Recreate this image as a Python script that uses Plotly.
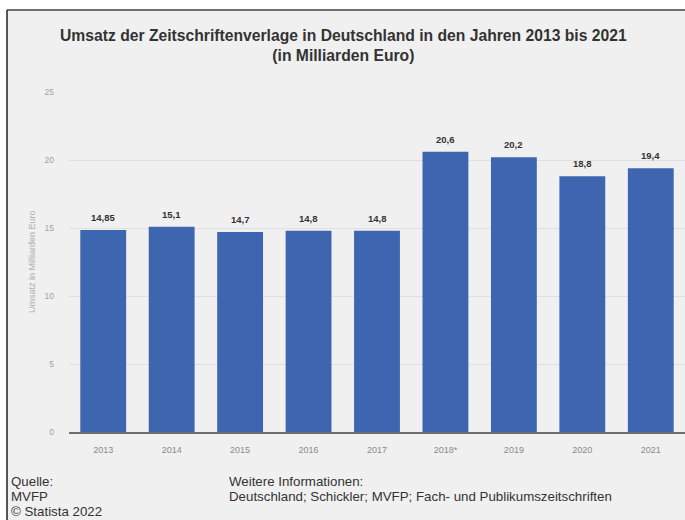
import plotly.graph_objects as go

categories = ["2013", "2014", "2015", "2016", "2017", "2018*", "2019", "2020", "2021"]
values = [14.85, 15.1, 14.7, 14.8, 14.8, 20.6, 20.2, 18.8, 19.4]
value_labels = ["14,85", "15,1", "14,7", "14,8", "14,8", "20,6", "20,2", "18,8", "19,4"]
y_ticks = [0, 5, 10, 15, 20, 25]

W, H = 685, 520
L, R, T, B = 69, 0, 92, 88
PW, PH = W - L - R, H - T - B
BG = "#f1f0f0"
FONT = "Liberation Sans, Arial, sans-serif"


def px(X):
    return (X - L) / PW


def py(Y):
    return (H - B - Y) / PH


fig = go.Figure()
fig.add_trace(go.Bar(
    x=categories, y=values,
    marker=dict(color="#3e66b0", line=dict(width=0)),
    hoverinfo="skip",
))

fig.update_layout(
    width=W, height=H,
    margin=dict(l=L, r=R, t=T, b=B),
    paper_bgcolor=BG, plot_bgcolor=BG,
    showlegend=False, bargap=0.33,
    font=dict(family=FONT, color="#333333"),
    xaxis=dict(
        type="category", categoryorder="array", categoryarray=categories,
        range=[-0.5, len(categories) - 0.5],
        showgrid=False, showline=True, linecolor="#6f6f6f", linewidth=2,
        ticks="", tickfont=dict(size=9, color="#8a8a8a"), ticklabelstandoff=8,
        fixedrange=True,
    ),
    yaxis=dict(
        range=[0, 25], tickvals=y_ticks, showgrid=True, gridcolor="#e1e0e0", gridwidth=1,
        zeroline=False, showline=False, ticks="",
        tickfont=dict(size=8.5, color="#a0a0a0"), ticklabelstandoff=14,
        fixedrange=True,
    ),
)

shapes = [
    dict(type="rect", xref="paper", yref="paper", x0=px(0), x1=px(W), y0=py(10), y1=py(0),
         fillcolor="white", line=dict(width=0), layer="below"),
    dict(type="rect", xref="paper", yref="paper", x0=px(0), x1=px(7), y0=py(H), y1=py(0),
         fillcolor="white", line=dict(width=0), layer="below"),
    dict(type="line", xref="paper", yref="paper", x0=px(7), x1=px(W), y0=py(10), y1=py(10),
         line=dict(color="#707070", width=2)),
    dict(type="line", xref="paper", yref="paper", x0=px(7), x1=px(7), y0=py(10), y1=py(H),
         line=dict(color="#222222", width=1.5)),
]
fig.update_layout(shapes=shapes)

ann = []
for i, (v, t) in enumerate(zip(values, value_labels)):
    ann.append(dict(x=i, y=v, xref="x", yref="y", text=t, showarrow=False,
                    yanchor="bottom", yshift=5,
                    font=dict(family=FONT, size=9.5, color="#333333", weight="bold")))
ann.append(dict(
    text="<b>Umsatz der Zeitschriftenverlage in Deutschland in den Jahren 2013 bis 2021<br>(in Milliarden Euro)</b>",
    xref="paper", yref="paper", x=px(343), y=py(25), xanchor="center", yanchor="top",
    showarrow=False, font=dict(size=15.7, color="#333333"), align="center",
))
ann.append(dict(
    text="Umsatz in Milliarden Euro", textangle=-90,
    xref="paper", yref="paper", x=px(32), y=py(262), xanchor="center", yanchor="middle",
    showarrow=False, font=dict(size=9, color="#b0b0b0"),
))
footer_font = dict(size=13.3, color="#333333")
for txt, X, Y in [("Quelle:", 9, 481), ("MVFP", 9, 496), ("© Statista 2022", 9, 511),
                  ("Weitere Informationen:", 227, 481),
                  ("Deutschland; Schickler; MVFP; Fach- und Publikumszeitschriften", 227, 496)]:
    ann.append(dict(text=txt, xref="paper", yref="paper", x=px(X), y=py(Y),
                    xanchor="left", yanchor="middle", showarrow=False, font=footer_font))
fig.update_layout(annotations=ann)

fig.write_html("out.html")
